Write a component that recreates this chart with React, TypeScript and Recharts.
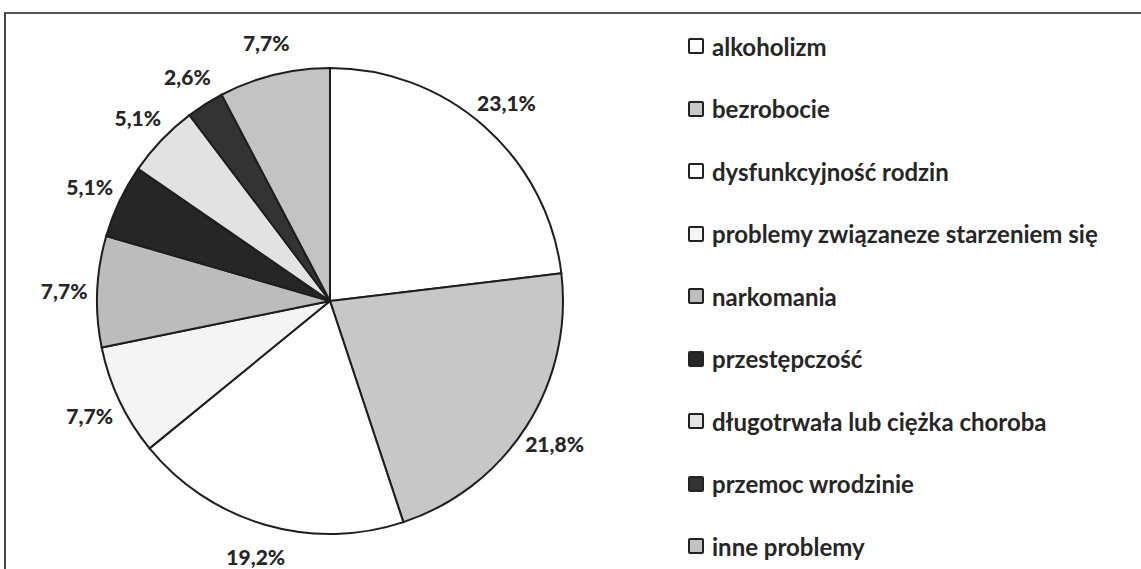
import React from 'react';
import { PieChart, Pie, Cell, Legend } from 'recharts';

// kategorie problemów i ich udział w %
const categories = [
  'alkoholizm',
  'bezrobocie',
  'dysfunkcyjność rodzin',
  'problemy związaneze starzeniem się',
  'narkomania',
  'przestępczość',
  'długotrwała lub ciężka choroba',
  'przemoc wrodzinie',
  'inne problemy',
];
const shares = [23.1, 21.8, 19.2, 7.7, 7.7, 5.1, 5.1, 2.6, 7.7];
const fills = ['#ffffff', '#c7c7c7', '#ffffff', '#f4f4f4', '#bcbcbc', '#262626', '#e2e2e2', '#333333', '#c3c3c3'];

const data = categories.map((name, i) => ({ name, value: shares[i] }));

const FONT = 'Lato, "Open Sans", sans-serif';
const RAD = Math.PI / 180;

const fmt = (v: number) => v.toFixed(1).replace('.', ',') + '%';

function renderLabel(props: any) {
  const { cx, cy, midAngle, outerRadius, value } = props;
  const r = outerRadius + 33;
  const x = cx + r * Math.cos(-midAngle * RAD);
  const y = cy + r * Math.sin(-midAngle * RAD);
  return (
    <text
      x={x}
      y={y}
      textAnchor="middle"
      dominantBaseline="central"
      fill="#262626"
      fontFamily={FONT}
      fontWeight={900}
      fontSize={21}
    >
      {fmt(value)}
    </text>
  );
}

function LegendList() {
  return (
    <div style={{ fontFamily: FONT, fontWeight: 700, fontSize: 24, color: '#262626' }}>
      {categories.map((name, i) => (
        <div key={name} style={{ display: 'flex', alignItems: 'center', height: 62.5, marginTop: i === 0 ? -22 : 0 }}>
          <span
            style={{
              display: 'inline-block',
              width: 12,
              height: 12,
              border: '2px solid #222',
              borderRadius: 2,
              background: fills[i],
              marginRight: 8,
            }}
          />
          <span>{name}</span>
        </div>
      ))}
    </div>
  );
}

export default function App() {
  return (
    <div style={{ position: 'absolute', left: 0, top: 0, width: 1141, height: 569, background: '#fff', overflow: 'hidden' }}>
      {/* ramka wykresu */}
      <div style={{ position: 'absolute', left: 4, top: 12, width: 1137, height: 557, borderTop: '2px solid #555', borderLeft: '2px solid #444' }} />
      <PieChart width={1141} height={569}>
        <Pie
          data={data}
          dataKey="value"
          nameKey="name"
          cx={325}
          cy={296}
          outerRadius={233}
          startAngle={90}
          endAngle={-270}
          stroke="#1e1e1e"
          strokeWidth={2}
          label={renderLabel}
          labelLine={false}
          isAnimationActive={false}
        >
          {data.map((d, i) => (
            <Cell key={d.name} fill={fills[i]} />
          ))}
        </Pie>
        <Legend
          content={() => <LegendList />}
          wrapperStyle={{ position: 'absolute', left: 688, top: 37, width: 450 }}
        />
      </PieChart>
    </div>
  );
}
